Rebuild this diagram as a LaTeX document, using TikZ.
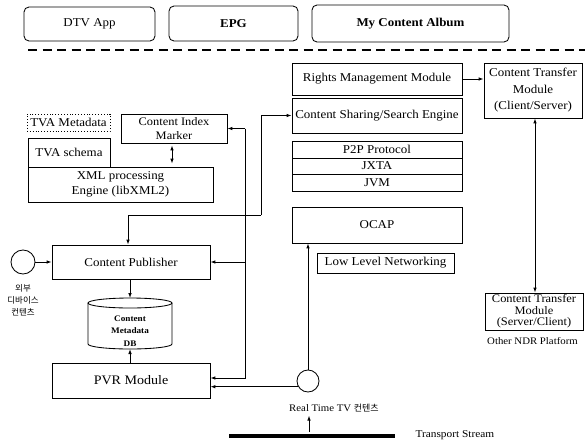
\documentclass[tikz,border=0pt]{standalone}
\usepackage{fontspec}
\setmainfont{Liberation Serif}[FakeStretch=1.08]
\newfontfamily\kr{Noto Sans CJK KR}
\usetikzlibrary{arrows.meta}
\begin{document}
\begin{tikzpicture}[x=1pt,y=1pt,
  font=\fontsize{12}{14}\selectfont,
  box/.style={draw, line width=0.85pt, inner sep=1pt, align=center},
  tbox/.style={box, rounded corners=5pt},
  arr/.style={-{Latex[length=5pt,width=3.6pt]}, line width=0.9pt},
  darr/.style={{Latex[length=5pt,width=3.6pt]}-{Latex[length=5pt,width=3.6pt]}, line width=0.9pt},
  ln/.style={line width=0.9pt}]
\useasboundingbox (0,0) rectangle (585,-447);

% top application row
\node[tbox, minimum width=131, minimum height=34] (dtv) at (89.5,-24) {DTV App};
\node[tbox, minimum width=129, minimum height=35, font=\bfseries\fontsize{12}{14}\selectfont] (epg) at (233.5,-23.5) {EPG};
\node[tbox, minimum width=197, minimum height=37, font=\bfseries\fontsize{12}{14}\selectfont] (album) at (410.5,-23.5) {My Content Album};
\coordinate (sepL) at (28,-50);
\coordinate (sepR) at (585,-50);
\draw[line width=2.2pt, dash pattern=on 9pt off 5.5pt] (sepL) -- (sepR);

% left block
\node[box, dotted, minimum width=83, minimum height=17, inner sep=0pt] (tvameta) at (68.5,-122.5) {TVA Metadata};
\node[box, minimum width=106, minimum height=29, inner sep=0pt, font=\fontsize{11.5}{13.5}\selectfont] (cim) at (174,-128.5) {Content Index\\Marker};
\node[box, minimum width=82, minimum height=29] (tvaschema) at (69,-152.5) {TVA schema};
\node[box, minimum width=185, minimum height=35, inner sep=0pt, font=\fontsize{12}{15}\selectfont] (xml) at (120.5,-184.5) {XML processing\\Engine (libXML2)};
\draw[darr] ([xshift=-2pt,yshift=-2pt]cim.south) -- ([xshift=-2pt,yshift=3pt]cim.south |- xml.north);

\node[box, minimum width=158, minimum height=34] (pub) at (131,-262) {Content Publisher};
\node[draw, circle, line width=0.85pt, minimum size=24, inner sep=0pt] (ext) at (23,-262) {};
\draw[arr] (ext) -- (pub);
\node[font=\kr\fontsize{8.5}{12}\selectfont, align=center] (extlbl) at (23,-300) {외부\\디바이스\\컨텐츠};

% database cylinder
\draw[line width=0.85pt] (88,-303) -- (88,-344) arc[start angle=180, end angle=360, x radius=42, y radius=5] -- (172,-303);
\draw[line width=0.85pt] (130,-303) ellipse [x radius=42, y radius=5];
\node[font=\bfseries\fontsize{8.5}{12.5}\selectfont, align=center] (db) at (130,-331) {Content\\Metadata\\DB};
\coordinate (dbtop) at (130,-298);
\coordinate (dbbot) at (130,-349);

\node[box, minimum width=158, minimum height=35, font=\fontsize{13}{15}\selectfont] (pvr) at (131,-380.5) {PVR Module};
\draw[arr] (dbtop |- pub.south) -- (dbtop);
\draw[arr] (dbbot |- pvr.north) -- (dbbot);

% bus A (x = 245)
\coordinate (ja) at (245,-128.5);
\draw[arr] (ja) -- (cim.east);
\draw[arr] (ja) |- ([yshift=2.5pt]pvr.east);
\draw[arr] (ja |- pub.east) -- (pub.east);

% right stack
\node[box, minimum width=170, minimum height=32] (rmm) at (377,-79) {Rights Management Module};
\node[box, minimum width=170, minimum height=35] (css) at (377,-115.5) {Content Sharing/Search Engine};
\node[box, minimum width=170, minimum height=17, inner sep=0pt] (p2p) at (377,-149.5) {P2P Protocol};
\node[box, minimum width=170, minimum height=16, inner sep=0pt] (jxta) at (377,-166) {JXTA};
\node[box, minimum width=170, minimum height=17, inner sep=0pt] (jvm) at (377,-182.5) {JVM};
\node[box, minimum width=170, minimum height=36] (ocap) at (377,-225) {OCAP};
\node[box, minimum width=137, minimum height=20, inner sep=0pt] (llnet) at (385.5,-263) {Low Level Networking};

% bus B (x = 261)
\coordinate (jb) at (261,-215);
\draw[arr] (jb) |- (css.west);
\draw[arr] (jb) -| ([xshift=-3pt]pub.north);

% real time TV source
\node[draw, circle, line width=0.85pt, minimum size=22, inner sep=0pt] (rt) at (308,-381) {};
\draw[arr] (rt.north) -- (rt.north |- ocap.south);
\draw[arr] (rt.210) -- (rt.210 -| pvr.east);
\node[font=\fontsize{10}{12}\selectfont] (rtl) at (334,-408) {Real Time TV {\kr\fontsize{9}{11}\selectfont 컨텐츠}};
\coordinate (ts1) at (229,-436);
\coordinate (ts2) at (395,-436);
\draw[line width=4pt] (ts1) -- (ts2);
\node[font=\fontsize{10.5}{12}\selectfont, anchor=west] (tsl) at (412,-435) {Transport Stream};
\coordinate (tsup) at (309,-432);
\draw[arr] (tsup) -- (tsup |- rtl.south);

% content transfer modules
\node[box, minimum width=98, minimum height=55, inner sep=0pt, font=\fontsize{12}{16.5}\selectfont] (ctm1) at (533,-90.5) {Content Transfer\\Module\\(Client/Server)};
\node[box, minimum width=98, minimum height=37, inner sep=0pt, font=\fontsize{11.5}{11.5}\selectfont] (ctm2) at (534,-311.5) {Content Transfer\\Module\\(Server/Client)};
\draw[arr] (rmm.east) -- (rmm.east -| ctm1.west);
\draw[darr] ([xshift=2pt]ctm1.south) -- ([xshift=1pt]ctm2.north);
\node[font=\fontsize{10}{12}\selectfont, anchor=west, inner sep=0pt] (ndr) at (487,-341) {Other NDR Platform};
\end{tikzpicture}
\end{document}
